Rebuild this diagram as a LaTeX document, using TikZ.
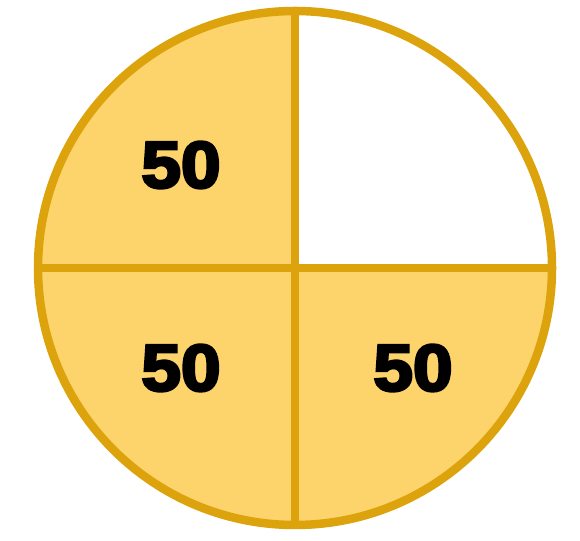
\documentclass[tikz,border=0pt]{standalone}
\usepackage{fontspec}
\newfontfamily\heavy{Liberation Sans}[BoldFeatures={FakeBold=4}]
\definecolor{pfill}{HTML}{FDD36B}
\definecolor{pline}{HTML}{DDA30C}
\begin{document}
\begin{tikzpicture}[x=1pt,y=1pt,
  num/.style={font=\heavy\bfseries\fontsize{66}{66}\selectfont, text=black, inner sep=0pt, xscale=1.08},
  rim/.style={draw=pline, line width=8.5pt}]
\useasboundingbox (0,0) rectangle (580,540);
\coordinate (c) at (295,272);
\fill[pfill] (c) circle (257);
\fill[white] (c) -- ++(257,0) arc (0:90:257) -- cycle;
\coordinate (t) at (295,529);
\coordinate (b) at (295,15);
\coordinate (l) at (38,272);
\coordinate (r) at (552,272);
\draw[rim] (t) -- (b);
\draw[rim] (l) -- (r);
\draw[rim] (c) circle (257);
\node[num] (q1) at (181,375) {50};
\node[num] (q2) at (181,172) {50};
\node[num] (q3) at (413,172) {50};
\end{tikzpicture}
\end{document}
